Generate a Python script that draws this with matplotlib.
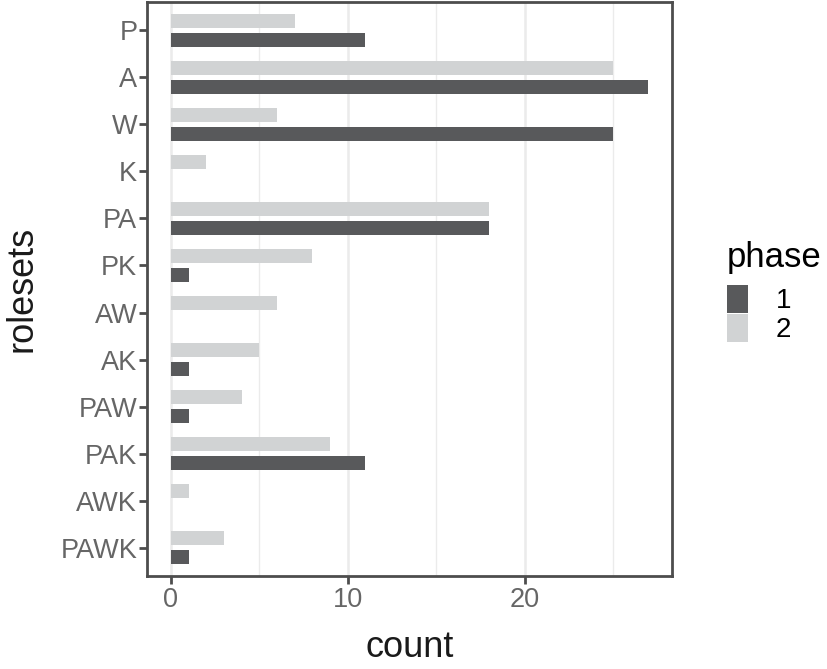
import numpy as np
import matplotlib.pyplot as plt
from matplotlib.patches import Patch

plt.rcParams['font.family'] = ['Liberation Sans', 'DejaVu Sans']

# data
rolesets = ["P", "A", "W", "K", "PA", "PK", "AW", "AK", "PAW", "PAK", "AWK", "PAWK"]
phase1 = [11, 27, 25, 0, 18, 1, 0, 1, 1, 11, 0, 1]
phase2 = [7, 25, 6, 2, 18, 8, 6, 5, 4, 9, 1, 3]
phases = ["1", "2"]
colors = {"1": "#58595B", "2": "#D1D3D4"}

fig = plt.figure(figsize=(8.27, 6.69), dpi=100)
ax = fig.add_axes([0.1778, 0.139, 0.635, 0.858])

pos = np.arange(len(rolesets))[::-1]  # P at the top
bh = 0.3
ax.barh(pos - 0.2, phase1, height=bh, color=colors["1"], zorder=3)
ax.barh(pos + 0.2, phase2, height=bh, color=colors["2"], zorder=3)

xmax = max(max(phase1), max(phase2))
ax.set_xlim(-0.05 * xmax, 1.05 * xmax)
ax.set_ylim(-0.6, len(rolesets) - 1 + 0.6)

ax.set_yticks(pos)
ax.set_yticklabels(rolesets)
ax.set_xticks([0, 10, 20])
ax.set_xticks([5, 15, 25], minor=True)
ax.grid(axis='x', which='major', color='#EBEBEB', linewidth=1.8, zorder=0)
ax.grid(axis='x', which='minor', color='#EBEBEB', linewidth=1.0, zorder=0)
ax.tick_params(axis='both', which='major', length=6, width=2, color='#4D4D4D',
               labelsize=19.5, labelcolor='#666666', pad=2)
ax.tick_params(axis='y', which='major', pad=1)
ax.tick_params(axis='x', which='minor', length=0)
for s in ax.spines.values():
    s.set_color('#4D4D4D')
    s.set_linewidth(2)

ax.set_xlabel("count", fontsize=26, color='#1A1A1A', labelpad=12)
ax.set_ylabel("rolesets", fontsize=26, color='#1A1A1A', labelpad=15)

handles = [Patch(facecolor=colors[p], edgecolor='none') for p in phases]
leg = fig.legend(handles, phases, title="phase", loc='upper left',
                 bbox_to_anchor=(0.879, 0.64), frameon=False, fontsize=20,
                 title_fontsize=25, handlelength=0.75, handleheight=1.15,
                 handletextpad=1.0, labelspacing=0.0, borderaxespad=0,
                 borderpad=0)
leg._legend_box.align = "left"
leg._legend_box.sep = 8

fig.savefig("out.png", dpi=100)
